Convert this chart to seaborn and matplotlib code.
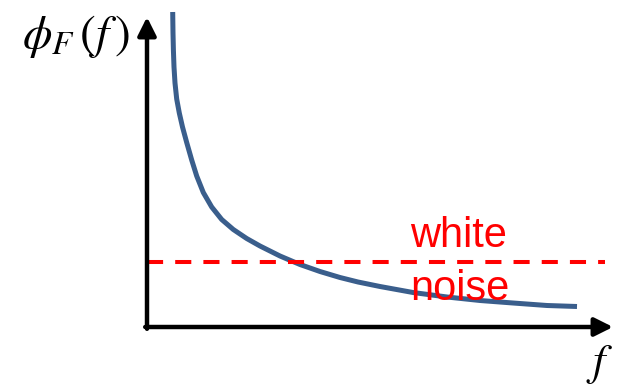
import matplotlib
matplotlib.use("Agg")
import matplotlib.pyplot as plt
import seaborn as sns
import pandas as pd

# Curve values (frequency f vs spectral density phi_F)
f_vals = [25.7, 26.0, 26.4, 27.0, 28.0, 29.7, 32.3, 35.5, 39.7, 44.7, 49.7, 56.3, 64.7,
          74.7, 86.3, 99.7, 113, 133, 153, 173, 193, 211, 233, 266, 300, 333, 366, 400, 430]
phi_vals = [315, 294, 277, 260, 244, 228, 214, 200, 184.5, 167, 151, 134.5, 120,
            107.5, 97.5, 88.5, 81, 71, 62.5, 55.5, 49.5, 45, 40.5, 34.5, 30, 26.5, 24, 21.5, 20.5]

# White-noise floor
noise_level = 65
noise_f = [0, 458]

# Axis extents (arrow tips)
x_axis_end = 466
y_axis_end = 310

sns.set_theme(style="white")
plt.rcParams['font.family'] = ['Liberation Sans', 'DejaVu Sans']
plt.rcParams['mathtext.fontset'] = 'stix'

fig = plt.figure(figsize=(6.28, 3.87), dpi=100)
ax = fig.add_axes([0, 0, 1, 1])
ax.set_xlim(-147, 481)
ax.set_ylim(-60, 327)
ax.axis('off')

df = pd.DataFrame({'f': f_vals, 'phi': phi_vals})
sns.lineplot(data=df, x='f', y='phi', ax=ax, color='#3A5E8C', linewidth=3.6,
             sort=False, estimator=None, solid_capstyle='butt')
ax.lines[-1].set_solid_joinstyle('round')

noise_df = pd.DataFrame({'f': noise_f, 'phi': [noise_level, noise_level]})
sns.lineplot(data=noise_df, x='f', y='phi', ax=ax, color='#FF0000', linewidth=2.9,
             estimator=None)
ax.lines[-1].set_dashes([4.0, 3.0])

arrow_kw = dict(arrowstyle='-|>,head_length=1.1,head_width=0.55', color='black',
                lw=3.2, shrinkA=0, shrinkB=0, mutation_scale=10)
ax.annotate('', xy=(0, y_axis_end), xytext=(0, -1.8), arrowprops=arrow_kw)
ax.annotate('', xy=(x_axis_end, 0), xytext=(-1.8, 0), arrowprops=arrow_kw)

ax.text(311, 80, 'white', color='#FF0000', fontsize=30, ha='center', va='baseline')
ax.text(313, 27, 'noise', color='#FF0000', fontsize=30, ha='center', va='baseline')

ax.text(-71, 290, r'$\phi_F\,(f\,)$', fontsize=34, ha='center', va='center', color='black')
ax.text(453, -38, r'$f$', fontsize=32, ha='center', va='center', color='black')

sns.despine(ax=ax, left=True, bottom=True)
fig.savefig('out.png', dpi=100)
